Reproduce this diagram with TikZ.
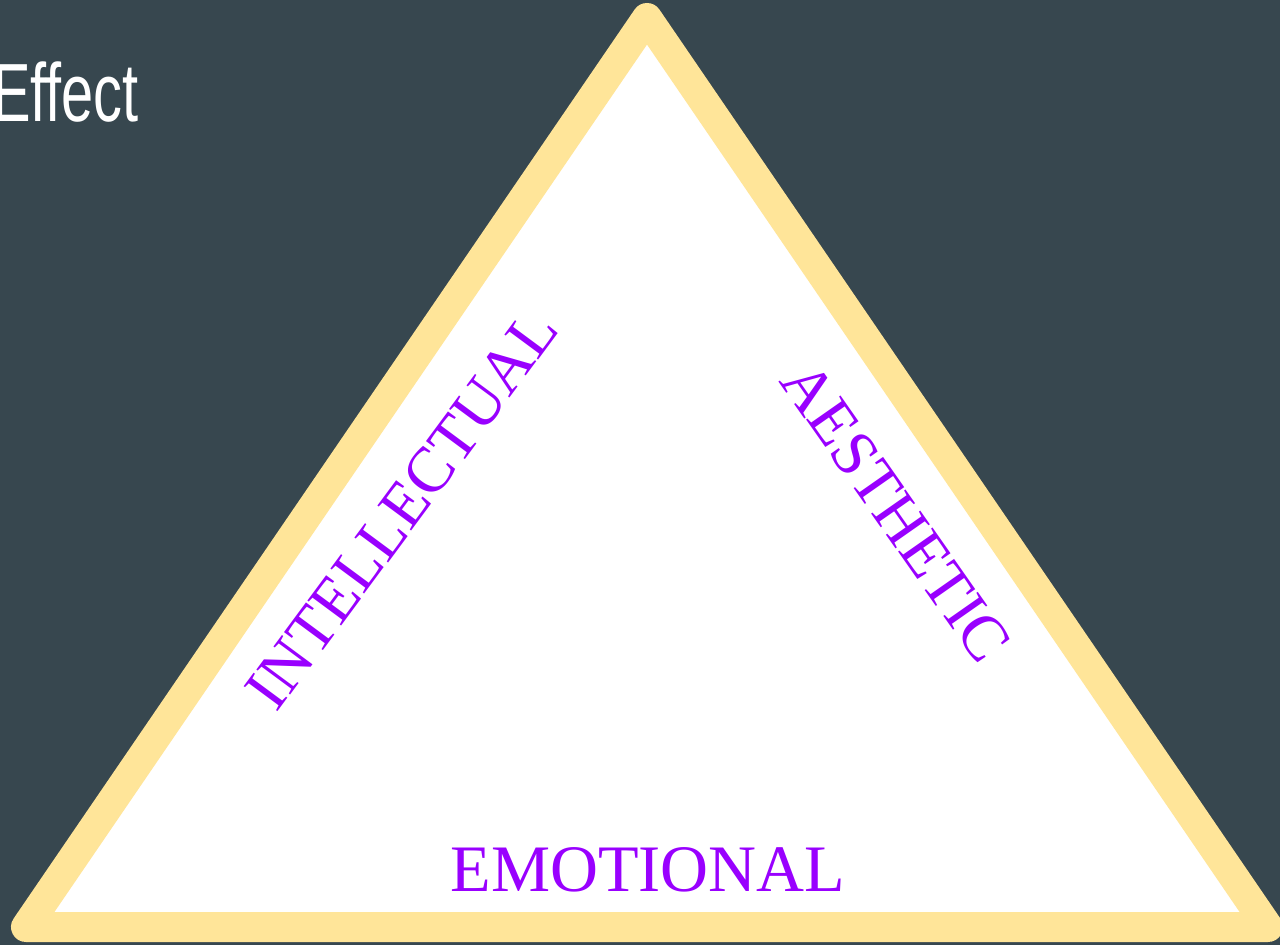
\documentclass[tikz,border=0pt]{standalone}
\usepackage{fontspec}
\setmainfont{Liberation Serif}
\newfontfamily\headfont{Liberation Sans}
\usepackage{xcolor}
\definecolor{slate}{RGB}{55,71,79}
\definecolor{lyellow}{RGB}{255,229,153}
\definecolor{vpurple}{RGB}{153,0,255}
\usetikzlibrary{positioning}

\begin{document}
\begin{tikzpicture}[
  x=0.02cm,y=-0.02cm,
  edge/.style={draw=lyellow,fill=white,line width=0.6cm,line join=round},
  lbl/.style={text=vpurple,inner sep=0pt,font=\fontsize{36.5}{42}\selectfont},
  title/.style={text=white,inner sep=0pt,anchor=base east,font=\headfont\fontsize{47}{50}\selectfont}
]
  \useasboundingbox (0,0) rectangle (1280,945);
  \clip (0,0) rectangle (1280,945);
  \fill[slate] (0,0) rectangle (1280,945);

  % triangle corners
  \coordinate (apex) at (647,18);
  \coordinate (bl) at (26,927);
  \coordinate (br) at (1268,927);
  \path[edge] (apex) -- (bl) -- (br) -- cycle;

  \node[title,xscale=0.7] (eff) at (139,122) {Effect};

  \node[lbl,rotate=53.5] (intel) at (402,509) {INTELLECTUAL};
  \node[lbl,rotate=-55] (aesth) at (896,512) {AESTHETIC};
  \node[lbl,font=\fontsize{37.8}{42}\selectfont] (emot) at (648,870) {EMOTIONAL};
\end{tikzpicture}
\end{document}
